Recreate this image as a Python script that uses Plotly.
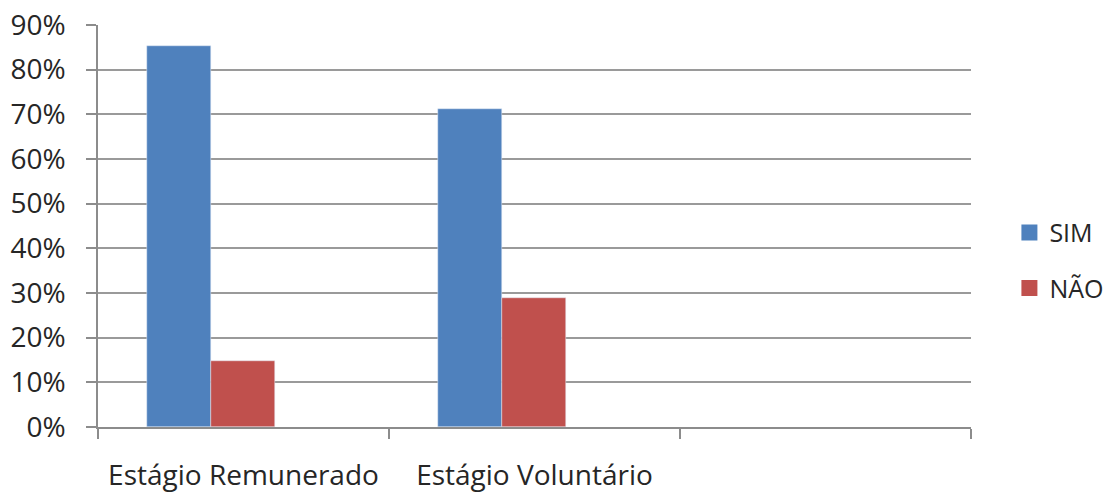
import plotly.graph_objects as go

categories = ["Estágio Remunerado", "Estágio Voluntário"]
empty_slot = [" "]
series_names = ["SIM", "NÃO"]
sim_values = [0.853, 0.712]
nao_values = [0.147, 0.288]
y_ticks = [0, 0.1, 0.2, 0.3, 0.4, 0.5, 0.6, 0.7, 0.8, 0.9]
colors = ["#4F81BD", "#C0504D"]

FONT = "Open Sans"
fig = go.Figure()
fig.add_trace(go.Bar(x=categories, y=sim_values, name=series_names[0], marker_color=colors[0],
                     width=0.22, offset=-0.333, showlegend=False))
fig.add_trace(go.Bar(x=categories, y=nao_values, name=series_names[1], marker_color=colors[1],
                     width=0.22, offset=-0.113, showlegend=False))
# legend entries with larger square swatches
for i, (nm, c) in enumerate(zip(series_names, colors)):
    fig.add_trace(go.Scatter(x=[None], y=[None], mode="markers", name=nm,
                             marker=dict(symbol="square", size=18, color=c),
                             legendgroup=str(i), showlegend=True))

fig.update_layout(
    width=1118, height=494,
    margin=dict(l=98, r=147, t=25, b=67, autoexpand=False),
    plot_bgcolor="white", paper_bgcolor="white",
    font=dict(family=FONT, size=24, color="#262626"),
    showlegend=True,
    legend=dict(x=1.044, y=0.415, xanchor="left", yanchor="middle",
                font=dict(size=25), tracegroupgap=20, itemwidth=30),
    bargap=0.0,
)
fig.update_xaxes(
    type="category", categoryorder="array", categoryarray=categories + empty_slot,
    range=[-0.5, 2.5], tickson="boundaries", ticks="outside", ticklen=10,
    tickcolor="#8c8c8c", tickwidth=1.5, showline=True, linecolor="#8c8c8c", linewidth=1.5,
    showgrid=False, tickfont=dict(size=28), ticklabelstandoff=23,
)
fig.update_yaxes(
    range=[0, 0.9], tickvals=y_ticks, tickformat=".0%", ticks="outside", ticklen=10,
    tickcolor="#8c8c8c", tickwidth=1.5, showline=True, linecolor="#8c8c8c", linewidth=1.5,
    showgrid=True, gridcolor="#9a9a9a", gridwidth=1.5, zeroline=False,
    tickfont=dict(size=28), ticklabelstandoff=15,
)
fig.write_html("out.html")
